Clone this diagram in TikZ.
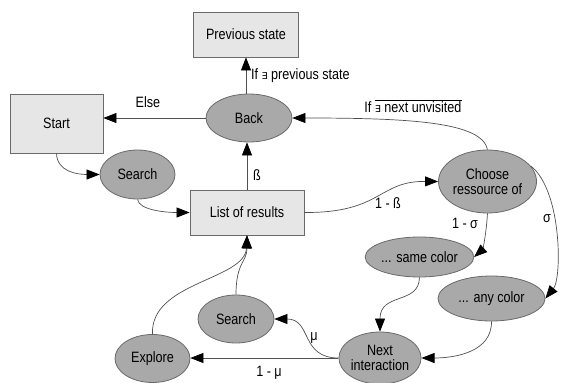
\documentclass[tikz,border=0pt]{standalone}
\usepackage{fontspec}
\setmainfont[FakeStretch=0.84]{Liberation Sans}
\newfontfamily\symfont{DejaVu Sans}
\usetikzlibrary{shapes.geometric,arrows.meta}
\definecolor{boxfill}{HTML}{E6E6E6}
\definecolor{ellfill}{HTML}{A9A9A9}
\definecolor{linec}{HTML}{505050}
\definecolor{bordc}{HTML}{6A6A6A}
\newcommand{\ex}{{\symfont\fontsize{9.5}{10}\selectfont ∃}}
\begin{document}
\begin{tikzpicture}[x=1pt,y=-1pt,
  font=\fontsize{15}{16}\selectfont,
  statebox/.style={draw=bordc,fill=boxfill,line width=0.8pt,rectangle,inner sep=0pt},
  stateell/.style={draw=bordc,fill=ellfill,line width=0.8pt,ellipse,inner sep=0pt,align=center,font=\fontsize{15}{16}\selectfont},
  conn/.style={draw=linec,line width=0.7pt,-{Triangle[length=13pt,width=10pt,color=black,fill=black]}},
  lbl/.style={inner sep=0pt}]
\useasboundingbox (0,0) rectangle (566,383);
% nodes
\node[statebox,minimum width=105pt,minimum height=45pt] (prev) at (246,34.5) {Previous state};
\node[statebox,minimum width=93pt,minimum height=59pt] (start) at (56.5,123.5) {Start};
\node[stateell,minimum width=86pt,minimum height=48pt] (back) at (249,118) {Back};
\node[stateell,minimum width=75pt,minimum height=49pt] (search1) at (137.5,174.5) {Search};
\node[statebox,minimum width=114pt,minimum height=45pt] (list) at (247,212.5) {List of results};
\node[stateell,minimum width=91pt,minimum height=63pt] (choose) at (487.5,181.5) {Choose\\[-1pt]ressource of};
\node[stateell,minimum width=93pt,minimum height=40pt] (same) at (419.5,257) {... same color};
\node[stateell,minimum width=107pt,minimum height=45pt] (any) at (491.5,298.5) {... any color};
\node[stateell,minimum width=82pt,minimum height=52pt] (next) at (380,358) {Next\\[-1pt]interaction};
\node[stateell,minimum width=76pt,minimum height=48pt] (search2) at (236,319) {Search};
\node[stateell,minimum width=75pt,minimum height=48pt] (explore) at (152.5,358.5) {Explore};
% connectors
\draw[conn] (back.north -| prev.south) -- (prev.south);
\draw[conn] (back.west) -- (back.west -| start.east);
\draw[conn] (start.south) .. controls (57,172) and (78,174.5) .. (search1.west);
\draw[conn] (search1.south) .. controls (139,210) and (165,212.5) .. (list.west);
\draw[conn] (list.north) -- (list.north |- back.south);
\draw[conn] (list.east) .. controls (382,213) and (378,181) .. (choose.west);
\draw[conn] (choose.north) .. controls (482,122) and (410,118) .. (back.east);
\draw[conn] (choose.south) .. controls (486,238) and (482,250) .. (same.east);
\draw[conn] (choose.20) .. controls (562,190) and (562,278) .. (any.east);
\draw[conn] (same.south) .. controls (419,305) and (380,292) .. (next.north);
\draw[conn] (any.south) .. controls (492,352) and (455,358) .. (next.east);
\draw[conn] (next.west) .. controls (300,358) and (312,319) .. (search2.east);
\draw[conn] (next.west) -- (next.west -| explore.east);
\draw[conn] (search2.north) .. controls (236,262) and (247,262) .. (list.south);
\draw[conn] (explore.north) .. controls (150,282) and (245,280) .. (list.south);
% labels
\node[lbl,anchor=west] (l1) at (251,76) {If \ex\ previous state};
\node[lbl] (l2) at (148,102) {Else};
\node[lbl] (l3) at (413,106) {If $\overline{\hbox{\ex\ next unvisited}}$};
\node[lbl] (l4) at (257,175) {ß};
\node[lbl] (l5) at (388,203) {1 - ß};
\node[lbl] (l6) at (465,223) {1 - σ};
\node[lbl] (l7) at (547,219) {σ};
\node[lbl] (l8) at (314,338) {μ};
\node[lbl] (l9) at (269,373) {1 - μ};
\end{tikzpicture}
\end{document}
